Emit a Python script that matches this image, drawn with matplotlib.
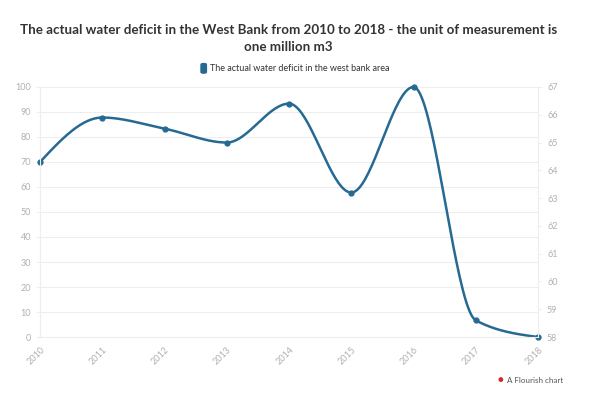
import numpy as np
import matplotlib
matplotlib.use("Agg")
import matplotlib.pyplot as plt
from matplotlib.patches import FancyBboxPatch

years = [2010, 2011, 2012, 2013, 2014, 2015, 2016, 2017, 2018]
deficit = [64.3, 65.9, 65.5, 65.0, 66.4, 63.2, 67.0, 58.6, 58.0]
left_ticks = list(range(0, 101, 10))
right_ticks = list(range(58, 68))

line_color = "#266a93"
tick_color = "#b0b0b0"
grid_color = "#eeeeee"

plt.rcParams["font.family"] = ["Lato", "DejaVu Sans"]


def monotone(x, y, n=40):
    # d3 curveMonotoneX style
    x = np.asarray(x, float)
    y = np.asarray(y, float)
    h = np.diff(x)
    s = np.diff(y) / h
    m = np.zeros(len(x))
    for i in range(1, len(x) - 1):
        if s[i - 1] * s[i] <= 0:
            m[i] = 0
        else:
            p = (s[i - 1] * h[i] + s[i] * h[i - 1]) / (h[i - 1] + h[i])
            m[i] = (np.sign(s[i - 1]) + np.sign(s[i])) * min(abs(s[i - 1]), abs(s[i]), 0.5 * abs(p))
    m[0] = (3 * s[0] - m[1]) / 2
    m[-1] = (3 * s[-1] - m[-2]) / 2
    xs, ys = [], []
    for i in range(len(x) - 1):
        t = np.linspace(0, 1, n)
        h00 = 2 * t**3 - 3 * t**2 + 1
        h10 = t**3 - 2 * t**2 + t
        h01 = -2 * t**3 + 3 * t**2
        h11 = t**3 - t**2
        xs.append(x[i] + t * h[i])
        ys.append(h00 * y[i] + h10 * h[i] * m[i] + h01 * y[i + 1] + h11 * h[i] * m[i + 1])
    return np.concatenate(xs), np.concatenate(ys)


fig = plt.figure(figsize=(6, 3.95), dpi=100)
ax = fig.add_axes([0.0667, 0.1468, 0.83, 0.633])
ax2 = ax.twinx()

ax.set_ylim(0, 100)
ax.set_yticks(left_ticks)
ax.set_xlim(years[0], years[-1])
ax.set_xticks(years)
ax.set_xticklabels([str(y) for y in years], rotation=45, ha="right", rotation_mode="anchor")
ax.grid(axis="y", color=grid_color, linewidth=0.8)
ax.set_axisbelow(True)

ax2.set_ylim(58, 67)
ax2.set_yticks(right_ticks)

for a in (ax, ax2):
    a.spines["top"].set_visible(False)
    a.spines["bottom"].set_color(grid_color)
    a.spines["left"].set_color(grid_color)
    a.spines["right"].set_color(grid_color)
    a.tick_params(colors=tick_color, labelsize=6.5, length=3, width=0.6)
    a.tick_params(axis="y", color=grid_color)
ax.tick_params(axis="x", length=0, pad=6)

sx, sy = monotone(years, deficit)
ax2.plot(sx, sy, color=line_color, linewidth=1.8, solid_capstyle="round", clip_on=False)
ax2.plot(years, deficit, "o", color=line_color, markersize=3.5, clip_on=False)

fig.text(0.481, 0.925, "The actual water deficit in the West Bank from 2010 to 2018 - the unit of measurement is",
         ha="center", va="center", fontsize=9.6, fontweight="bold", color="#333333")
fig.text(0.481, 0.882, "one million m3",
         ha="center", va="center", fontsize=9.6, fontweight="bold", color="#333333")

fig.patches.append(FancyBboxPatch((0.335, 0.815), 0.009, 0.024, boxstyle="round,pad=0,rounding_size=0.003",
                                  transform=fig.transFigure, color=line_color))
fig.text(0.350, 0.827, "The actual water deficit in the west bank area",
         ha="left", va="center", fontsize=6.5, color="#333333")

fig.text(0.834, 0.037, "\u25CF", ha="center", va="center", fontsize=7, color="#d62728")
fig.text(0.845, 0.037, "A Flourish chart", ha="left", va="center", fontsize=5.8, color="#555555")

fig.savefig("out.png", dpi=100)
